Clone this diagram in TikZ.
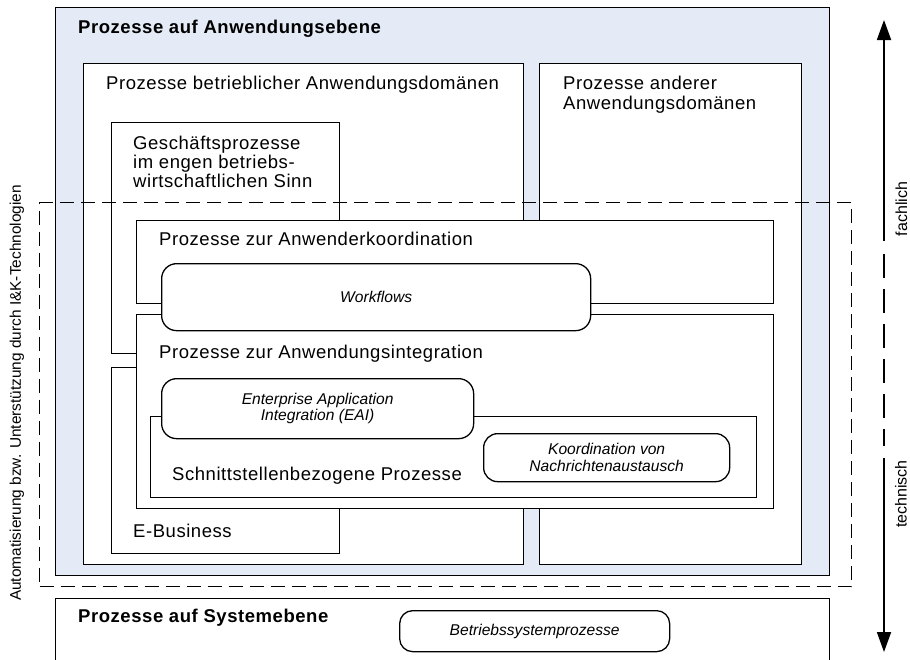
\documentclass[tikz,border=0pt]{standalone}
\usepackage{fontspec}
\setmainfont{Liberation Sans}
\newfontfamily\spaced[LetterSpace=3]{Liberation Sans}
\usetikzlibrary{arrows.meta}
\definecolor{appblue}{RGB}{228,235,246}

\begin{document}
\begin{tikzpicture}[x=1pt,y=-1pt,
  frame/.style={draw=black, line width=1.3pt, fill=white, inner sep=0pt,
    anchor=north west},
  rbox/.style={frame, rounded corners=15pt, align=center,
    font=\fontsize{15.6}{16.5}\selectfont\itshape},
  lbl/.style={inner sep=0pt, anchor=base west, align=left,
    font=\spaced\fontsize{18.5}{20}\selectfont},
  head/.style={lbl, font=\spaced\fontsize{18.5}{20}\selectfont\bfseries},
  side/.style={inner sep=0pt, rotate=90, font=\fontsize{15.4}{17}\selectfont},
  scope dash/.style={draw=black, line width=1.1pt, dash pattern=on 14pt off 7pt},
  axis/.style={draw=black, line width=1.8pt},
  axistip/.style={-{Triangle[length=20pt,width=14pt]}}
]
\useasboundingbox (0,0) rectangle (910,659);

% application level with its two domains
\node[frame, fill=appblue, minimum width=774, minimum height=568] (appl) at (55,7) {};
\node[frame, minimum width=440, minimum height=501] (betr) at (83,63) {};
\node[frame, minimum width=262, minimum height=501] (andere) at (539,63) {};

% business processes and e-business (partly covered by the IT layers)
\node[frame, minimum width=228, minimum height=231] (gp) at (111,122) {};
\node[frame, minimum width=228, minimum height=186] (eb) at (111,367) {};

% user coordination and application integration
\node[frame, minimum width=637, minimum height=83] (ak) at (136,220) {};
\node[frame, minimum width=637, minimum height=194] (ai) at (136,314) {};
\node[rbox, minimum width=429, minimum height=67] (wf) at (161,263) {Workflows};

% interface related processes
\node[frame, minimum width=606, minimum height=81] (ss) at (150,416) {};
\node[rbox, minimum width=312, minimum height=60] (eai) at (161,378)
  {Enterprise Application\\Integration (EAI)};
\node[rbox, rounded corners=14pt, minimum width=246, minimum height=48] (kn) at (483,433)
  {Koordination von\\Nachrichtenaustausch};

% range of automation by I&K technologies
\node[scope dash, inner sep=0pt, anchor=north west, minimum width=812, minimum height=384] (auto) at (39,202) {};

% system level
\node[frame, minimum width=774, minimum height=90] (sys) at (55,598) {};
\node[rbox, rounded corners=13pt, minimum width=270, minimum height=41] (bsp) at (399,610) {Betriebssystemprozesse};

% box captions (multi-line captions are placed by their last baseline)
\node[head] (tAppl) at (78,33) {Prozesse auf Anwendungsebene};
\node[lbl] (tBetr) at (106,89) {Prozesse betrieblicher Anwendungsdomänen};
\node[lbl] (tAndere) at (563,109) {Prozesse anderer\\Anwendungsdomänen};
\node[lbl, font=\spaced\fontsize{18.5}{19}\selectfont] (tGp) at (133,187)
  {Geschäftsprozesse\\im engen betriebs-\\wirtschaftlichen Sinn};
\node[lbl] (tAk) at (159,245) {Prozesse zur Anwenderkoordination};
\node[lbl] (tAi) at (159,358) {Prozesse zur Anwendungsintegration};
\node[lbl] (tSs) at (172,480) {Schnittstellenbezogene Prozesse};
\node[lbl] (tEb) at (133,537) {E-Business};
\node[head] (tSys) at (78,622) {Prozesse auf Systemebene};

% left caption of the dashed range
\node[side] (tAuto) at (17,393) {Automatisierung bzw. Unterstützung durch I\&K-Technologien};

% vertical axis from technical to business view
\coordinate (axTop) at (884,20);
\coordinate (axUpper) at (884,241);
\coordinate (axDashA) at (884,254);
\coordinate (axDashB) at (884,446);
\coordinate (axLower) at (884,458);
\coordinate (axBottom) at (884,652);
\draw[axis, axistip] (axUpper) -- (axTop);
\draw[axis, dash pattern=on 24pt off 11pt] (axDashA) -- (axDashB);
\draw[axis, axistip] (axLower) -- (axBottom);
\node[side, font=\fontsize{16}{18}\selectfont] (tFach) at (901.5,209) {fachlich};
\node[side, font=\fontsize{16}{18}\selectfont] (tTech) at (901,494) {technisch};
\end{tikzpicture}
\end{document}
